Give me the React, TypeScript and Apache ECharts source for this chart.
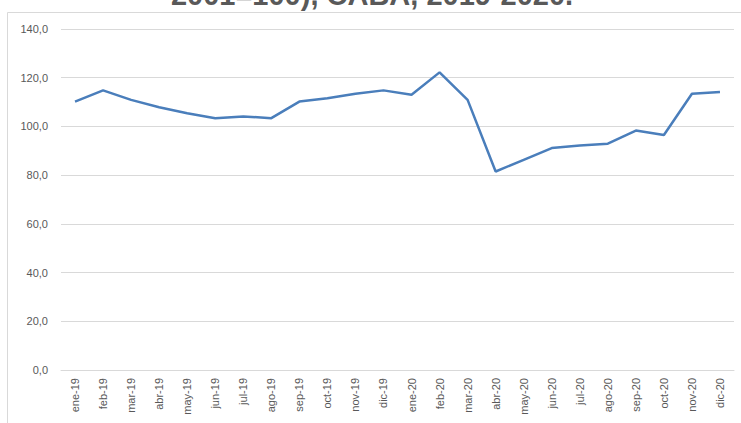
import React, { useEffect, useRef } from "react";
import * as echarts from "echarts";

const categories = [
  "ene-19", "feb-19", "mar-19", "abr-19", "may-19", "jun-19", "jul-19", "ago-19",
  "sep-19", "oct-19", "nov-19", "dic-19", "ene-20", "feb-20", "mar-20", "abr-20",
  "may-20", "jun-20", "jul-20", "ago-20", "sep-20", "oct-20", "nov-20", "dic-20",
];
const values = [
  110.2, 114.8, 110.9, 107.9, 105.4, 103.4, 104.1, 103.4,
  110.2, 111.6, 113.4, 114.8, 113.0, 122.2, 110.9, 81.5,
  86.3, 91.1, 92.2, 92.9, 98.3, 96.5, 113.4, 114.1,
];
const titleText = "2001=100), CABA, 2019-2020.";
const yMin = 0;
const yMax = 140;
const yInterval = 20;

export default function App() {
  const ref = useRef<HTMLDivElement>(null);
  useEffect(() => {
    if (!ref.current) return;
    const chart = echarts.init(ref.current, null, { renderer: "svg" });
    chart.setOption({
      animation: false,
      backgroundColor: "#ffffff",
      graphic: [
        {
          type: "rect",
          shape: { x: 7.5, y: 12.5, width: 745, height: 420 },
          style: { fill: "none", stroke: "#d9d9d9", lineWidth: 1 },
          z: 0,
        },
        {
          type: "text",
          x: 372,
          y: 9,
          style: {
            text: titleText,
            font: "bold 29px 'Liberation Sans', Arial, sans-serif",
            fill: "#595959",
            textAlign: "center",
            textVerticalAlign: "bottom",
          },
          z: 10,
        },
      ],
      grid: { left: 61, right: 7, top: 29, bottom: 53 },
      xAxis: {
        type: "category",
        data: categories,
        boundaryGap: true,
        axisLine: { lineStyle: { color: "#d9d9d9", width: 1 } },
        axisTick: { show: false },
        axisLabel: {
          rotate: 90,
          interval: 0,
          margin: 8,
          color: "#595959",
          fontSize: 11,
          fontFamily: "'Liberation Sans', Arial, sans-serif",
        },
      },
      yAxis: {
        type: "value",
        min: yMin,
        max: yMax,
        interval: yInterval,
        axisLine: { show: false },
        axisTick: { show: false },
        splitLine: { lineStyle: { color: "#d9d9d9", width: 1 } },
        axisLabel: {
          margin: 13,
          color: "#595959",
          fontSize: 11,
          fontFamily: "'Liberation Sans', Arial, sans-serif",
          formatter: (v: number) => v.toFixed(1).replace(".", ","),
        },
      },
      series: [
        {
          type: "line",
          data: values,
          symbol: "none",
          lineStyle: { color: "#4a7ebb", width: 2.5 },
        },
      ],
    });
    return () => chart.dispose();
  }, []);
  return (
    <div
      ref={ref}
      style={{ position: "fixed", left: 0, top: 0, width: 741, height: 423 }}
    />
  );
}
